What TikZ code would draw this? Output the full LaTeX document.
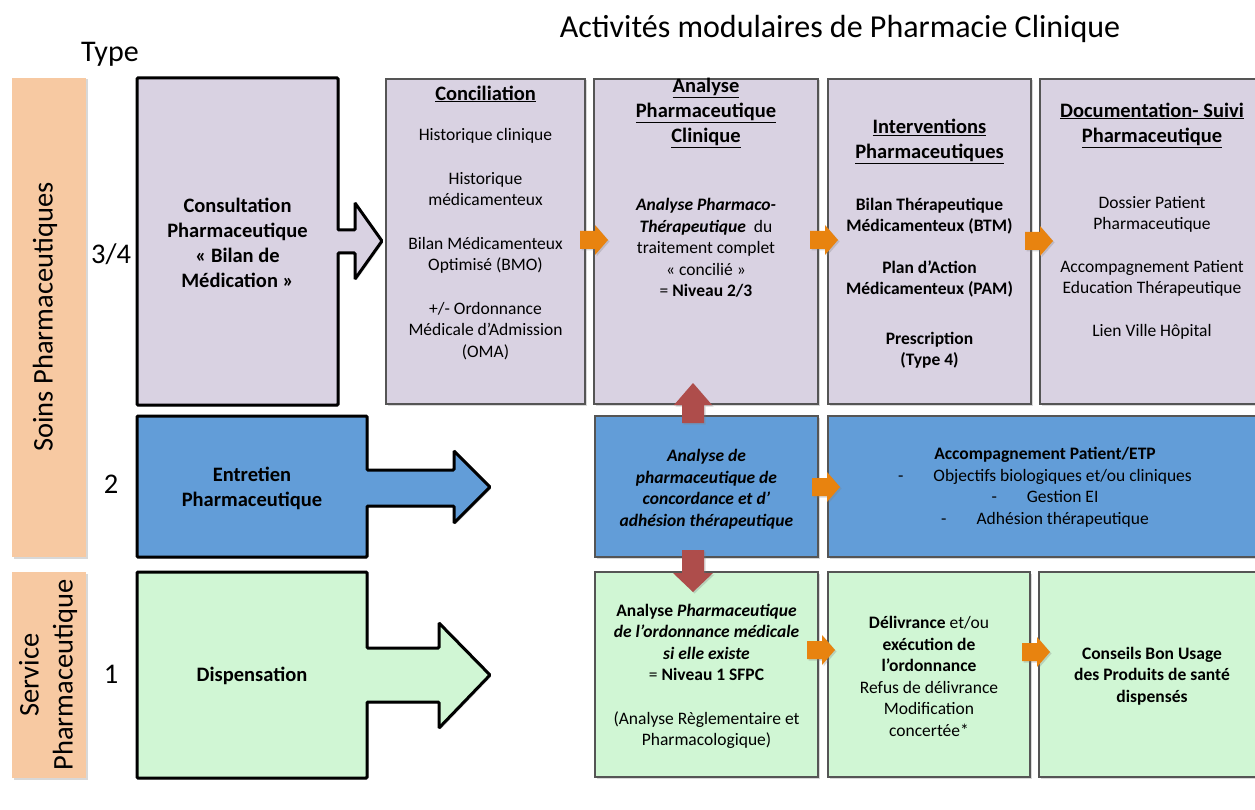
\documentclass[tikz,border=0pt]{standalone}
\usepackage{fontspec}
\setmainfont{Carlito}
\usetikzlibrary{shadows}
\definecolor{lav}{HTML}{D9D2E2}
\definecolor{bluebox}{HTML}{629DD8}
\definecolor{greenbox}{HTML}{D0F6D4}
\definecolor{peach}{HTML}{F7C9A2}
\definecolor{oarr}{HTML}{E8830F}
\definecolor{rarr}{HTML}{AE4D4B}
\definecolor{edgegray}{HTML}{555555}
\newcommand\bodyfs{\fontsize{17.5}{21.5}\selectfont}
\newcommand\headfs{\fontsize{20.5}{25}\selectfont\bfseries}
\newcommand\hbarrow[7]{%
  \fill[#1] (#2,{#4-#5}) -- ({#3-#7},{#4-#5}) -- ({#3-#7},{#4-#6}) -- (#3,#4)
    -- ({#3-#7},{#4+#6}) -- ({#3-#7},{#4+#5}) -- (#2,{#4+#5}) -- cycle;}
\tikzset{
  shad/.style={drop shadow={shadow xshift=1.5pt,shadow yshift=-1.5pt,opacity=0.3}},
  rbox/.style={draw=edgegray,line width=1.3pt,shad,inner sep=0pt},
  topbox/.style={rbox,fill=lav,minimum height=325pt},
  midbox/.style={rbox,fill=bluebox,minimum height=141pt},
  botbox/.style={rbox,fill=greenbox,minimum height=205pt},
  bigshape/.style={draw=black,line width=3pt,rounded corners=1pt,shad},
  txt/.style={align=center,inner sep=0pt,font=\bodyfs},
  head/.style={align=center,inner sep=0pt,font=\headfs},
  side/.style={inner sep=0pt,font=\fontsize{28.5}{34}\selectfont},
  oarrow/.style={oarr,shad},
}
\begin{document}
\begin{tikzpicture}[x=1pt,y=-1pt]
\clip (0,0) rectangle (1255,810);
\fill[white] (0,0) rectangle (1255,810);

% title and side labels
\node[inner sep=0pt,font=\fontsize{32}{38}\selectfont,anchor=base] (title) at (840,38) {Activités modulaires de Pharmacie Clinique};
\node[inner sep=0pt,font=\fontsize{30}{36}\selectfont,anchor=base] (type) at (110,62) {Type};

\fill[peach,shad] (12,78) rectangle (86,557);
\fill[peach,shad] (12,572) rectangle (86,778);
\node[side,rotate=90] (soins) at (45,317) {Soins Pharmaceutiques};
\node[side,rotate=90,align=center] (service) at (48,675) {Service\\Pharmaceutique};

\node[side,anchor=base] (t34) at (111,264) {3/4};
\node[side,anchor=base] (t2) at (111,493) {2};
\node[side,anchor=base] (t1) at (111,683) {1};

% big left shapes with arrows
\path[bigshape,fill=lav] (137,78) -- (338,78) -- (338,230) -- (355,230) -- (355,203) -- (382,241)
  -- (355,279) -- (355,253) -- (338,253) -- (338,405) -- (137,405) -- cycle;
\node[head] (consult) at (237.5,243) {Consultation\\Pharmaceutique\\« Bilan de\\Médication »};

\path[bigshape,fill=bluebox] (137,416) -- (367,416) -- (367,470) -- (454,470) -- (454,451) -- (490,487)
  -- (454,523) -- (454,506) -- (367,506) -- (367,557) -- (137,557) -- cycle;
\node[head] (entret) at (252,488.5) {Entretien\\Pharmaceutique};

\path[bigshape,fill=greenbox] (137,572) -- (367,572) -- (367,648) -- (439,648) -- (439,623) -- (490,675)
  -- (439,728) -- (439,702) -- (367,702) -- (367,778) -- (137,778) -- cycle;
\node[head] (disp) at (252,676) {Dispensation};

% top row
\node[topbox,minimum width=199pt] (conc) at (485.5,241.5) {};
\node[topbox,minimum width=224pt] (apc) at (706,241.5) {};
\node[topbox,minimum width=203pt] (inter) at (929.5,241.5) {};
\node[topbox,minimum width=224pt] (doc) at (1152,241.5) {};

\node[head] (concT) at (485.5,94) {\underline{Conciliation}};
\node[txt] (concB) at (485.5,244) {Historique clinique\\[22pt]Historique\\médicamenteux\\[22pt]Bilan Médicamenteux\\Optimisé (BMO)\\[22pt]+/- Ordonnance\\Médicale d’Admission\\(OMA)};

\node[head] (apcT) at (706,113) {\underline{Analyse}\\\underline{Pharmaceutique}\\\underline{Clinique}};
\node[txt] (apcB) at (706,248) {\textbf{\textit{Analyse Pharmaco-}}\\\textbf{\textit{Thérapeutique}}\ \ du\\traitement complet\\« concilié »\\= \textbf{Niveau 2/3}};

\node[head] (interT) at (929.5,141.5) {\underline{Interventions}\\\underline{Pharmaceutiques}};
\node[txt,font=\bodyfs\bfseries] (interB) at (929.5,283) {Bilan Thérapeutique\\Médicamenteux (BTM)\\[20pt]Plan d’Action\\Médicamenteux (PAM)\\[28pt]Prescription\\(Type 4)};

\node[head] (docT) at (1152,125) {\underline{Documentation- Suivi}\\\underline{Pharmaceutique}};
\node[txt] (docB) at (1152,267.5) {Dossier Patient\\Pharmaceutique\\[21pt]Accompagnement Patient\\Education Thérapeutique\\[21pt]Lien Ville Hôpital};

% middle row
\node[midbox,minimum width=223pt] (ana2) at (706.5,486.5) {};
\node[midbox,minimum width=434pt] (acc) at (1045,486.5) {};
\node[txt,font=\bodyfs\bfseries\itshape] (ana2T) at (706.5,489) {Analyse de\\pharmaceutique de\\concordance et d’\\adhésion thérapeutique};
\node[txt] (accT) at (1045,487.5) {\textbf{Accompagnement Patient/ETP}\\-\hspace{30pt}Objectifs biologiques et/ou cliniques\\-\hspace{30pt}Gestion EI\\-\hspace{30pt}Adhésion thérapeutique};

% bottom row
\node[botbox,minimum width=223pt] (g1) at (706.5,674.5) {};
\node[botbox,minimum width=202pt] (g2) at (929,674.5) {};
\node[botbox,minimum width=226pt] (g3) at (1152,674.5) {};
\node[txt] (g1T) at (706.5,676.5) {\textbf{Analyse \textit{Pharmaceutique}}\\\textbf{\textit{de l’ordonnance médicale}}\\\textbf{\textit{si elle existe}}\\= \textbf{Niveau 1 SFPC}\\[22pt](Analyse Règlementaire et\\Pharmacologique)};
\node[txt] (g2T) at (929,676.5) {\textbf{Délivrance} et/ou\\\textbf{exécution de}\\\textbf{l’ordonnance}\\Refus de délivrance\\Modification\\concertée*};
\node[txt,font=\bodyfs\bfseries] (g3T) at (1152,676) {Conseils Bon Usage\\des Produits de santé\\dispensés};

% orange arrows
\hbarrow{oarrow}{580}{608}{240}{9}{15}{13}
\hbarrow{oarrow}{810}{838}{240}{9}{15}{13}
\hbarrow{oarrow}{1025}{1053}{241}{9}{15}{13}
\hbarrow{oarrow}{812}{840}{487}{9}{15}{13}
\hbarrow{oarrow}{807}{835}{650}{9}{15}{13}
\hbarrow{oarrow}{1022}{1050}{652}{9}{15}{13}

% red arrows
\fill[rarr,shad] (682,423) -- (682,405) -- (674,405) -- (693,383) -- (712,405) -- (704,405) -- (704,423) -- cycle;
\fill[rarr,shad] (682,550) -- (704,550) -- (704,573) -- (713,573) -- (693,592) -- (673,573) -- (682,573) -- cycle;
\end{tikzpicture}
\end{document}
